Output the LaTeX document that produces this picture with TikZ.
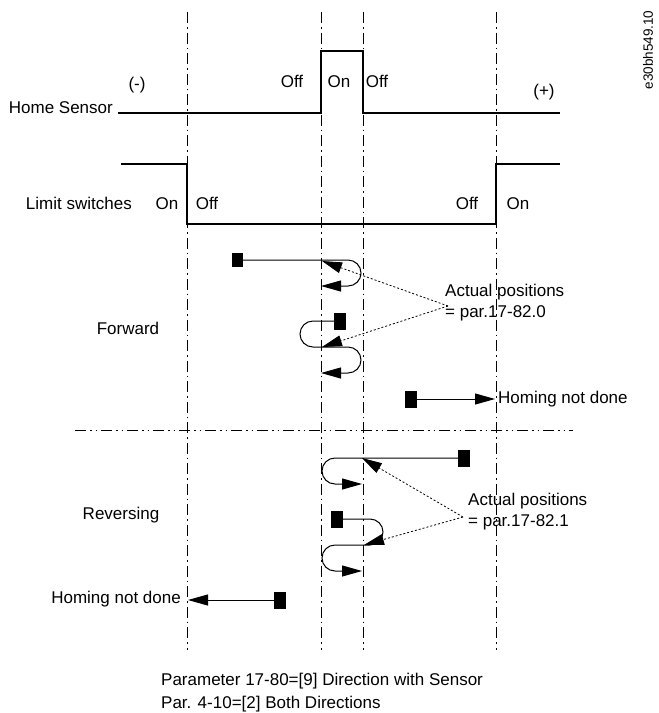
\documentclass[tikz,border=0pt]{standalone}
\usepackage{fontspec}
\setmainfont{Liberation Sans}
\usetikzlibrary{arrows.meta}
\begin{document}
\begin{tikzpicture}[x=1pt,y=-1pt,
  every node/.style={font=\fontsize{17}{21}\selectfont, inner sep=0pt},
  guide/.style={line width=0.9pt, dash pattern=on 11pt off 4pt on 1.5pt off 4pt},
  sep/.style={line width=0.9pt, dash pattern=on 11pt off 4pt on 1.5pt off 4pt on 1.5pt off 4pt},
  sig/.style={line width=1.1pt},
  sq/.style={fill=black, draw=none, minimum width=12pt, minimum height=17pt, inner sep=0pt},
  mv/.style={line width=1pt, -{Triangle[length=20pt,width=11pt]}},
  pointer/.style={line width=0.8pt, dash pattern=on 2pt off 2pt, -{Triangle[length=20pt,width=11pt]}}]
\useasboundingbox (0,0) rectangle (659,713);

% vertical guides
\foreach \n/\x in {a/187,b/321,c/363,d/496}{
  \coordinate (\n t) at (\x,12);
  \coordinate (\n b) at (\x,650);
  \draw[guide] (\n t) -- (\n b);
}
% separator
\coordinate (sl) at (75,430);
\coordinate (sr) at (573,430);
\draw[sep] (sl) -- (sr);

% Home sensor signal
\coordinate (hs0) at (118,113);
\coordinate (hs1) at (560,113);
\draw[sig] (hs0) -- (321,113) -- (321,51) -- (363,51) -- (363,113) -- (hs1);
% Limit switch signal
\coordinate (ls0) at (121,164);
\coordinate (ls1) at (560,164);
\draw[sig] (ls0) -- (187,164) -- (187,224) -- (496,224) -- (496,164) -- (ls1);

% labels
\node[anchor=base east] (lhs) at (113,113) {Home Sensor};
\node[anchor=base] (lminus) at (137,89) {(-)};
\node[anchor=base] (loff1) at (292,87) {Off};
\node[anchor=base] (lon1) at (339,87) {On};
\node[anchor=base] (loff2) at (377,87) {Off};
\node[anchor=base] (lplus) at (544,96) {(+)};
\node[anchor=base east] (lls) at (132,209) {Limit switches};
\node[anchor=base] (lon2) at (167,209) {On};
\node[anchor=base] (loff3) at (207,209) {Off};
\node[anchor=base] (loff4) at (467,209) {Off};
\node[anchor=base] (lon3) at (518,209) {On};
\node[rotate=90, font=\fontsize{13.5}{15}\selectfont] (code) at (648,50) {e30bh549.10};

% Forward
\node (fwd) at (128,328) {Forward};
\node[sq, minimum width=11pt, minimum height=14pt] (f1) at (237,260) {};
\coordinate (f1tip) at (321,286);
\draw[mv] (f1.east) -- (348,260) arc[start angle=-90,end angle=90,radius=13] -- (f1tip);
\node[sq] (f2) at (340,321) {};
\coordinate (f2tip) at (321,373);
\draw[mv] (f2.west) -- (313,321) arc[start angle=-90,end angle=-270,radius=13]
  -- (348,347) arc[start angle=-90,end angle=90,radius=13] -- (f2tip);
\coordinate (fa) at (448,306);
\coordinate (fp1) at (322,261);
\coordinate (fp2) at (322,347);
\draw[pointer] (fa) -- (fp1);
\draw[pointer] (fa) -- (fp2);
\node[anchor=west, align=left] (fact) at (445,303) {Actual positions\\= par.17-82.0};

\node[sq] (h1) at (411,399) {};
\coordinate (h1tip) at (495,399);
\draw[mv] (h1.east) -- (h1tip);
\node[anchor=west] (h1t) at (498,399) {Homing not done};

% Reversing
\node (rev) at (121,515) {Reversing};
\node[sq] (r1) at (464,458) {};
\coordinate (r1tip) at (362,484);
\draw[mv] (r1.west) -- (335,458) arc[start angle=-90,end angle=-270,radius=13] -- (r1tip);
\node[sq] (r2) at (337,519) {};
\coordinate (r2tip) at (362,571);
\draw[mv] (r2.east) -- (370,519) arc[start angle=-90,end angle=90,radius=13]
  -- (335,545) arc[start angle=-90,end angle=-270,radius=13] -- (r2tip);
\coordinate (ra) at (463,517);
\coordinate (rp1) at (362,458);
\coordinate (rp2) at (364,545);
\draw[pointer] (ra) -- (rp1);
\draw[pointer] (ra) -- (rp2);
\node[anchor=west, align=left] (ract) at (468,512) {Actual positions\\= par.17-82.1};

\node[sq] (h2) at (280,600) {};
\coordinate (h2tip) at (188,600);
\draw[mv] (h2.west) -- (h2tip);
\node[anchor=east] (h2t) at (181,599) {Homing not done};

% footer
\node[anchor=west] (p1) at (161,681) {Parameter 17-80=[9] Direction with Sensor};
\node[anchor=west] (p2) at (161,704) {Par. 4-10=[2] Both Directions};
\end{tikzpicture}
\end{document}
